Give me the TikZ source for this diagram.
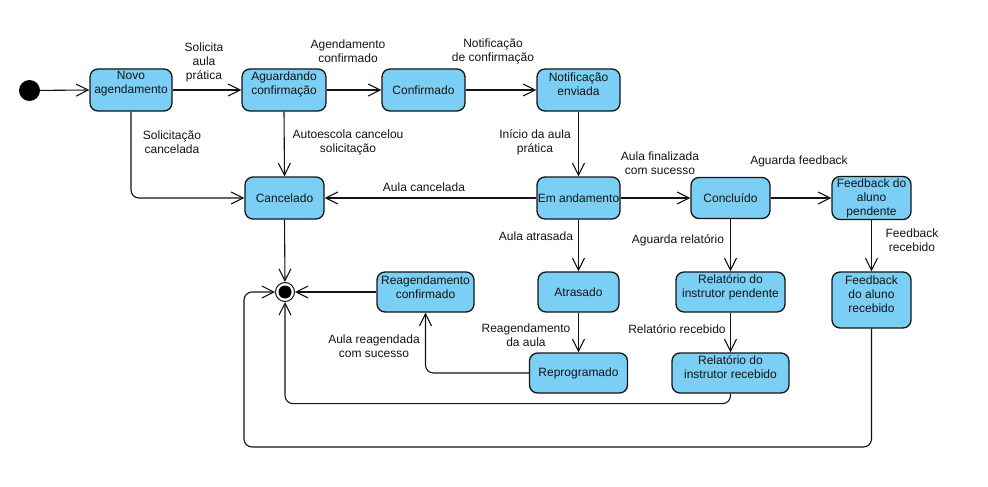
\documentclass[tikz,border=0pt]{standalone}
\usepackage{fontspec}
\setmainfont{Liberation Sans}
\usetikzlibrary{arrows.meta}
\definecolor{stblue}{RGB}{123,207,245}
\definecolor{ink}{RGB}{20,20,20}
\begin{document}
\begin{tikzpicture}[x=1pt,y=-1pt,
  state/.style={draw=ink, line width=1.3pt, fill=stblue, rounded corners=8pt, inner sep=0pt},
  lbl/.style={font=\fontsize{12}{14}\selectfont, align=center, inner sep=0pt, text=ink},
  arr/.style={draw=ink, line width=1.1pt, rounded corners=8pt, -{Straight Barb[length=12pt,width=12pt,line width=1.1pt]}},
]
\useasboundingbox[fill=white] (0,0) rectangle (988,487);

% initial and final
\node[circle, fill=black, minimum size=21pt, inner sep=0pt] (init) at (29.5,90.5) {};
\node[circle, draw=ink, line width=1pt, fill=white, minimum size=19pt, inner sep=0pt] (fin) at (285,292) {};
\fill[black] (fin.center) circle (6.5pt);

% states
\node[state, minimum width=82pt, minimum height=42pt] (novo) at (131,90) {};
\node[lbl] (novot) at ([yshift=6pt]novo.center) {Novo\\agendamento};
\node[state, minimum width=84pt, minimum height=42pt] (aguard) at (284,90) {};
\node[lbl] (aguardt) at ([yshift=6pt]aguard.center) {Aguardando\\confirmação};
\node[state, minimum width=83pt, minimum height=42pt] (conf) at (423.5,90) {};
\node[lbl] (conft) at (conf.center) {Confirmado};
\node[state, minimum width=83pt, minimum height=42pt] (notif) at (578.5,90) {};
\node[lbl] (notift) at ([yshift=6pt]notif.center) {Notificação\\enviada};
\node[state, minimum width=79pt, minimum height=42pt] (canc) at (284.5,198) {};
\node[lbl] (canct) at (canc.center) {Cancelado};
\node[state, minimum width=83pt, minimum height=42pt] (emand) at (578.5,198) {};
\node[lbl] (emandt) at (emand.center) {Em andamento};
\node[state, minimum width=79pt, minimum height=41pt] (concl) at (730.5,198) {};
\node[lbl] (conclt) at (concl.center) {Concluído};
\node[state, minimum width=79pt, minimum height=43pt] (fbpend) at (871.5,198) {};
\node[lbl] (fbpendt) at (fbpend.center) {Feedback do\\aluno\\pendente};
\node[state, minimum width=79pt, minimum height=56pt] (fbrec) at (871.5,300) {};
\node[lbl] (fbrect) at ([yshift=6pt]fbrec.center) {Feedback\\do aluno\\recebido};
\node[state, minimum width=109pt, minimum height=40pt] (relpend) at (730.5,292) {};
\node[lbl] (relpendt) at ([yshift=5pt]relpend.center) {Relatório do\\instrutor pendente};
\node[state, minimum width=117pt, minimum height=40pt] (relrec) at (730.5,373) {};
\node[lbl] (relrect) at ([yshift=6pt]relrec.center) {Relatório do\\instrutor recebido};
\node[state, minimum width=81pt, minimum height=40pt] (atras) at (578.5,292) {};
\node[lbl] (atrast) at (atras.center) {Atrasado};
\node[state, minimum width=98pt, minimum height=40pt] (reprog) at (578.5,373) {};
\node[lbl] (reprogt) at (reprog.center) {Reprogramado};
\node[state, minimum width=97pt, minimum height=40pt] (reagconf) at (425.5,292) {};
\node[lbl] (reagconft) at ([yshift=5pt]reagconf.center) {Reagendamento\\confirmado};

\coordinate (c1) at (244,447);

% connectors
\draw[arr] (init) -- (novo.west);
\draw[arr] (novo.east) -- (aguard.west);
\draw[arr] (aguard.east) -- (conf.west);
\draw[arr] (conf.east) -- (notif.west);
\draw[arr] (novo.south) |- (canc.west);
\draw[arr] (aguard.south) -- (canc.north);
\draw[arr] (notif.south) -- (emand.north);
\draw[arr] (emand.west) -- (canc.east);
\draw[arr] (emand.east) -- (concl.west);
\draw[arr] (concl.east) -- (fbpend.west);
\draw[arr] (fbpend.south) -- (fbrec.north);
\draw[arr] (concl.south) -- (relpend.north);
\draw[arr] (relpend.south) -- (relrec.north);
\draw[arr] (emand.south) -- (atras.north);
\draw[arr] (atras.south) -- (reprog.north);
\draw[arr] (reprog.west) -| (reagconf.south);
\draw[arr] (reagconf.west) -- (fin.east);
\draw[arr] (canc.south) -- (fin.north);
\draw[arr] (relrec.south) -- ++(0,10) -| (fin.south);
\draw[arr] (fbrec.south) |- (c1) |- (fin.west);

% labels
\node[lbl] (l1) at (204,62) {Solicita\\aula\\prática};
\node[lbl] (l2) at (348,51) {Agendamento\\confirmado};
\node[lbl] (l3) at (493,51) {Notificação\\de confirmação};
\node[lbl] (l4) at (172,142) {Solicitação\\cancelada};
\node[lbl] (l5) at (348,142) {Autoescola cancelou\\solicitação};
\node[lbl] (l6) at (535,142) {Início da aula\\prática};
\node[lbl] (l7) at (424,187) {Aula cancelada};
\node[lbl] (l8) at (660,163) {Aula finalizada\\com sucesso};
\node[lbl] (l9) at (799,161) {Aguarda feedback};
\node[lbl] (l10) at (912,240) {Feedback\\recebido};
\node[lbl] (l11) at (678,240) {Aguarda relatório};
\node[lbl] (l12) at (677,329) {Relatório recebido};
\node[lbl] (l13) at (536,236) {Aula atrasada};
\node[lbl] (l14) at (526,335) {Reagendamento\\da aula};
\node[lbl] (l15) at (374,346) {Aula reagendada\\com sucesso};
\end{tikzpicture}
\end{document}
